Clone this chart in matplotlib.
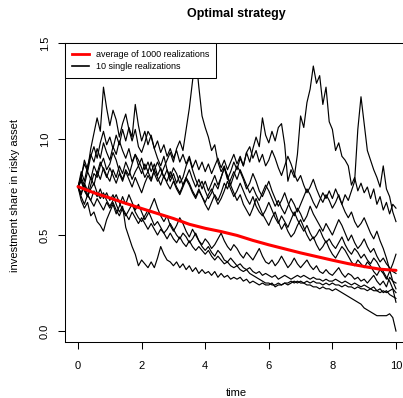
import numpy as np
import matplotlib
matplotlib.use("Agg")
import matplotlib.pyplot as plt

plt.rcParams['font.family'] = ['Liberation Sans', 'DejaVu Sans']

# mean share over 1000 simulated runs, sampled every 0.5 time units
avg_time = [0.0, 0.5, 1.0, 1.5, 2.0, 2.5, 3.0, 3.5, 4.0, 4.5, 5.0,
            5.5, 6.0, 6.5, 7.0, 7.5, 8.0, 8.5, 9.0, 9.5, 10.0]
avg_share = [0.752, 0.720, 0.693, 0.665, 0.638, 0.612, 0.586, 0.556, 0.535, 0.518, 0.498,
             0.472, 0.449, 0.428, 0.407, 0.388, 0.369, 0.351, 0.336, 0.322, 0.316]

# ten single runs, sampled every 0.1 time units from 0 to 10
run1 = [0.75, 0.80, 0.89, 0.84, 0.95, 1.03, 1.11, 1.04, 1.27, 1.16,
        1.07, 1.15, 1.10, 1.01, 1.08, 1.13, 1.05, 0.99, 1.05, 0.96,
        0.93, 0.98, 1.04, 1.01, 0.95, 0.90, 0.86, 0.91, 0.84, 0.80,
        0.85, 0.82, 0.77, 0.80, 0.86, 0.90, 0.84, 0.79, 0.75, 0.78,
        0.73, 0.69, 0.72, 0.77, 0.74, 0.80, 0.85, 0.81, 0.76, 0.72,
        0.68, 0.71, 0.66, 0.63, 0.60, 0.64, 0.69, 0.65, 0.61, 0.58,
        0.55, 0.59, 0.62, 0.57, 0.53, 0.56, 0.52, 0.49, 0.51, 0.55,
        0.58, 0.54, 0.50, 0.47, 0.49, 0.45, 0.42, 0.44, 0.47, 0.43,
        0.40, 0.38, 0.41, 0.44, 0.42, 0.39, 0.36, 0.34, 0.37, 0.35,
        0.33, 0.36, 0.34, 0.31, 0.29, 0.32, 0.30, 0.27, 0.31, 0.35,
        0.40]
run2 = [0.75, 0.79, 0.74, 0.70, 0.76, 0.82, 0.80, 0.86, 0.90, 0.84,
        0.87, 0.93, 0.89, 0.83, 0.79, 0.84, 0.81, 0.87, 0.92, 0.89,
        0.85, 0.80, 0.83, 0.88, 0.82, 0.78, 0.81, 0.85, 0.89, 0.93,
        0.88, 0.95, 0.99, 0.94, 1.05, 1.16, 1.30, 1.44, 1.27, 1.12,
        1.06, 1.01, 0.94, 0.97, 0.88, 0.83, 0.86, 0.80, 0.76, 0.81,
        0.86, 0.83, 0.79, 0.74, 0.77, 0.82, 0.78, 0.73, 0.70, 0.74,
        0.78, 0.73, 0.69, 0.65, 0.68, 0.72, 0.67, 0.63, 0.60, 0.64,
        0.61, 0.57, 0.60, 0.65, 0.61, 0.58, 0.55, 0.52, 0.56, 0.53,
        0.50, 0.54, 0.58, 0.55, 0.51, 0.47, 0.50, 0.46, 0.43, 0.45,
        0.48, 0.44, 0.41, 0.43, 0.39, 0.36, 0.38, 0.35, 0.33, 0.31,
        0.30]
run3 = [0.75, 0.83, 0.78, 0.86, 0.92, 0.88, 0.95, 0.90, 0.98, 0.93,
        0.89, 0.96, 0.92, 0.99, 0.94, 0.90, 0.95, 0.88, 0.92, 0.86,
        0.90, 0.84, 0.88, 0.83, 0.87, 0.81, 0.85, 0.80, 0.84, 0.78,
        0.82, 0.77, 0.81, 0.76, 0.80, 0.84, 0.79, 0.75, 0.79, 0.74,
        0.78, 0.73, 0.77, 0.81, 0.76, 0.80, 0.85, 0.79, 0.83, 0.88,
        0.84, 0.90, 0.86, 0.93, 0.88, 0.95, 1.01, 0.96, 1.11, 1.02,
        0.98, 1.04, 0.99, 1.06, 1.08, 0.97, 0.78, 0.84, 0.80, 0.92,
        1.12, 1.06, 1.19, 1.26, 1.38, 1.29, 1.33, 1.18, 1.27, 1.09,
        1.05, 0.94, 0.98, 0.91, 0.89, 0.86, 0.76, 0.80, 0.73, 0.77,
        0.72, 0.75, 0.69, 0.74, 0.66, 0.70, 0.63, 0.67, 0.61, 0.66,
        0.64]
run4 = [0.75, 0.71, 0.77, 0.73, 0.80, 0.76, 0.83, 0.79, 0.85, 0.81,
        0.78, 0.84, 0.80, 0.86, 0.82, 0.88, 0.84, 0.79, 0.83, 0.86,
        0.82, 0.87, 0.83, 0.79, 0.84, 0.80, 0.76, 0.81, 0.77, 0.74,
        0.78, 0.74, 0.71, 0.75, 0.79, 0.76, 0.72, 0.69, 0.73, 0.70,
        0.66, 0.63, 0.67, 0.71, 0.68, 0.72, 0.77, 0.74, 0.79, 0.83,
        0.79, 0.84, 0.80, 0.76, 0.72, 0.75, 0.71, 0.68, 0.72, 0.76,
        0.73, 0.69, 0.65, 0.68, 0.64, 0.61, 0.65, 0.69, 0.66, 0.62,
        0.66, 0.70, 0.74, 0.71, 0.67, 0.64, 0.68, 0.72, 0.69, 0.73,
        0.69, 0.74, 0.70, 0.66, 0.71, 0.68, 0.73, 0.78, 1.05, 1.22,
        1.08, 0.94, 0.89, 0.84, 0.80, 0.75, 0.86, 0.74, 0.70, 0.62,
        0.57]
run5 = [0.75, 0.72, 0.76, 0.71, 0.68, 0.73, 0.70, 0.74, 0.69, 0.72,
        0.68, 0.71, 0.66, 0.62, 0.65, 0.54, 0.49, 0.44, 0.40, 0.34,
        0.37, 0.35, 0.33, 0.36, 0.33, 0.38, 0.44, 0.40, 0.37, 0.36,
        0.34, 0.36, 0.33, 0.35, 0.32, 0.34, 0.31, 0.33, 0.30, 0.32,
        0.30, 0.31, 0.29, 0.31, 0.28, 0.30, 0.28, 0.29, 0.27, 0.28,
        0.27, 0.28, 0.26, 0.27, 0.25, 0.26, 0.25, 0.24, 0.25, 0.24,
        0.24, 0.25, 0.23, 0.24, 0.24, 0.25, 0.24, 0.25, 0.26, 0.25,
        0.26, 0.25, 0.26, 0.25, 0.26, 0.25, 0.25, 0.24, 0.25, 0.24,
        0.25, 0.24, 0.24, 0.23, 0.24, 0.23, 0.23, 0.22, 0.23, 0.22,
        0.22, 0.21, 0.22, 0.21, 0.21, 0.20, 0.21, 0.20, 0.21, 0.22,
        0.20]
run6 = [0.75, 0.70, 0.66, 0.71, 0.68, 0.65, 0.69, 0.66, 0.63, 0.67,
        0.64, 0.67, 0.63, 0.60, 0.64, 0.61, 0.58, 0.62, 0.59, 0.56,
        0.59, 0.56, 0.53, 0.56, 0.53, 0.50, 0.53, 0.51, 0.48, 0.51,
        0.48, 0.46, 0.49, 0.46, 0.44, 0.47, 0.44, 0.42, 0.44, 0.42,
        0.40, 0.42, 0.39, 0.37, 0.39, 0.37, 0.35, 0.36, 0.34, 0.33,
        0.34, 0.32, 0.31, 0.32, 0.30, 0.29, 0.28, 0.27, 0.26, 0.25,
        0.25, 0.24, 0.24, 0.25, 0.24, 0.25, 0.25, 0.26, 0.25, 0.26,
        0.25, 0.25, 0.24, 0.24, 0.23, 0.23, 0.22, 0.23, 0.22, 0.22,
        0.21, 0.22, 0.21, 0.20, 0.19, 0.18, 0.17, 0.16, 0.15, 0.14,
        0.12, 0.11, 0.10, 0.09, 0.08, 0.08, 0.08, 0.08, 0.09, 0.07,
        0.00]
run7 = [0.75, 0.78, 0.73, 0.70, 0.74, 0.77, 0.72, 0.69, 0.72, 0.68,
        0.65, 0.68, 0.71, 0.67, 0.63, 0.60, 0.63, 0.66, 0.62, 0.59,
        0.57, 0.60, 0.63, 0.59, 0.55, 0.57, 0.54, 0.51, 0.53, 0.56,
        0.53, 0.50, 0.48, 0.51, 0.49, 0.46, 0.48, 0.51, 0.47, 0.44,
        0.42, 0.44, 0.41, 0.39, 0.42, 0.40, 0.37, 0.36, 0.38, 0.36,
        0.34, 0.35, 0.33, 0.32, 0.33, 0.31, 0.30, 0.31, 0.29, 0.30,
        0.29, 0.28, 0.29, 0.27, 0.28, 0.29, 0.28, 0.27, 0.28, 0.29,
        0.28, 0.29, 0.28, 0.27, 0.28, 0.27, 0.27, 0.26, 0.27, 0.26,
        0.26, 0.27, 0.26, 0.25, 0.26, 0.25, 0.24, 0.25, 0.24, 0.23,
        0.24, 0.23, 0.22, 0.23, 0.21, 0.22, 0.20, 0.21, 0.19, 0.18,
        0.17]
run8 = [0.75, 0.68, 0.64, 0.67, 0.60, 0.62, 0.57, 0.55, 0.52, 0.58,
        0.62, 0.66, 0.61, 0.65, 0.70, 0.66, 0.71, 0.67, 0.63, 0.66,
        0.62, 0.58, 0.61, 0.65, 0.69, 0.64, 0.60, 0.57, 0.60, 0.55,
        0.52, 0.55, 0.59, 0.56, 0.52, 0.49, 0.53, 0.50, 0.47, 0.45,
        0.48, 0.46, 0.43, 0.45, 0.48, 0.51, 0.47, 0.44, 0.42, 0.45,
        0.43, 0.40, 0.38, 0.41, 0.39, 0.37, 0.40, 0.43, 0.39, 0.36,
        0.35, 0.37, 0.34, 0.36, 0.39, 0.36, 0.33, 0.35, 0.38, 0.35,
        0.33, 0.35, 0.37, 0.34, 0.32, 0.34, 0.31, 0.30, 0.32, 0.30,
        0.29, 0.31, 0.33, 0.30, 0.28, 0.30, 0.29, 0.27, 0.28, 0.26,
        0.27, 0.25, 0.27, 0.29, 0.26, 0.24, 0.26, 0.23, 0.28, 0.26,
        0.25]
run9 = [0.75, 0.81, 0.87, 0.83, 0.91, 0.96, 0.90, 0.98, 1.04, 0.97,
        1.01, 0.95, 1.02, 0.97, 1.05, 0.99, 1.06, 1.01, 1.18, 1.07,
        0.99, 1.04, 0.97, 1.02, 0.95, 0.99, 0.93, 0.97, 0.91, 0.95,
        0.90, 0.94, 0.88, 0.92, 0.87, 0.91, 0.85, 0.89, 0.84, 0.88,
        0.83, 0.87, 0.82, 0.86, 0.90, 0.85, 0.89, 0.84, 0.88, 0.92,
        0.87, 0.91, 0.86, 0.93, 0.96, 0.90, 0.94, 0.88, 0.92, 0.86,
        0.89, 0.94, 0.90, 0.85, 0.81, 0.86, 0.91, 0.87, 0.82, 0.78,
        0.81, 0.76, 0.72, 0.75, 0.79, 0.74, 0.70, 0.67, 0.71, 0.68,
        0.64, 0.67, 0.71, 0.66, 0.62, 0.59, 0.62, 0.57, 0.54, 0.56,
        0.59, 0.55, 0.51, 0.48, 0.52, 0.47, 0.43, 0.38, 0.32, 0.26,
        0.22]
run10 = [0.75, 0.80, 0.76, 0.83, 0.79, 0.86, 0.82, 0.88, 0.84, 0.80,
         0.85, 0.81, 0.77, 0.82, 0.78, 0.83, 0.79, 0.75, 0.80, 0.76,
         0.72, 0.77, 0.81, 0.78, 0.84, 0.88, 0.84, 0.80, 0.78, 0.83,
         0.79, 0.75, 0.72, 0.76, 0.80, 0.77, 0.73, 0.70, 0.74, 0.70,
         0.67, 0.71, 0.74, 0.70, 0.66, 0.69, 0.73, 0.78, 0.74, 0.70,
         0.73, 0.77, 0.73, 0.69, 0.66, 0.70, 0.65, 0.62, 0.60, 0.63,
         0.67, 0.63, 0.59, 0.56, 0.60, 0.57, 0.54, 0.58, 0.62, 0.58,
         0.55, 0.52, 0.55, 0.51, 0.48, 0.50, 0.53, 0.49, 0.46, 0.48,
         0.45, 0.43, 0.46, 0.49, 0.45, 0.42, 0.40, 0.43, 0.41, 0.38,
         0.40, 0.37, 0.35, 0.38, 0.36, 0.33, 0.31, 0.28, 0.26, 0.22,
         0.15]
runs = [run1, run2, run3, run4, run5, run6, run7, run8, run9, run10]

fig = plt.figure(figsize=(4.03, 3.98), dpi=100)
# plot region is slightly wider than the canvas, so the right frame is cut off
ax = fig.add_axes([0.1613, 0.1407, 0.8536, 0.7513])

for r in runs:
    t = np.linspace(0, 10, len(r))
    ax.plot(t, r, color='black', lw=0.85)
ax.plot([], [], color='red', lw=2.0, label='average of 1000 realizations')
ax.plot([], [], color='black', lw=1.2, label='10 single realizations')
ax.plot(avg_time, avg_share, color='red', lw=2.2, solid_capstyle='round')

ax.set_xlim(-0.41, 10.41)
ax.set_ylim(-0.057, 1.5)
ax.set_xticks([0, 2, 4, 6, 8, 10])
ax.set_yticks([0.0, 0.5, 1.0, 1.5])
ax.set_yticklabels(['0.0', '0.5', '1.0', '1.5'], rotation=90, va='center')
ax.tick_params(axis='x', length=5, width=0.75, pad=9, labelsize=8)
ax.tick_params(axis='y', length=5, width=0.75, pad=6, labelsize=8)
for s in ax.spines.values():
    s.set_linewidth(0.75)

# axis titles and main title placed in figure pixels
fig.text(236 / 403, 1 - 396.5 / 398, 'time', ha='center', va='baseline', fontsize=8)
fig.text(15 / 403, 1 - 196 / 398, 'investment share in risky asset', ha='center',
         va='center', rotation=90, fontsize=8)
fig.text(236 / 403, 1 - 14 / 398, 'Optimal strategy', ha='center', va='center',
         fontsize=9, fontweight='bold')

leg = ax.legend(loc='upper left', bbox_to_anchor=(0, 1), borderaxespad=0,
                fontsize=6.5, frameon=True, fancybox=False, edgecolor='black',
                framealpha=1, handlelength=1.9, handletextpad=0.8,
                labelspacing=0.35, borderpad=0.75)
leg.get_frame().set_linewidth(0.75)

fig.savefig('out.png', dpi=100)
